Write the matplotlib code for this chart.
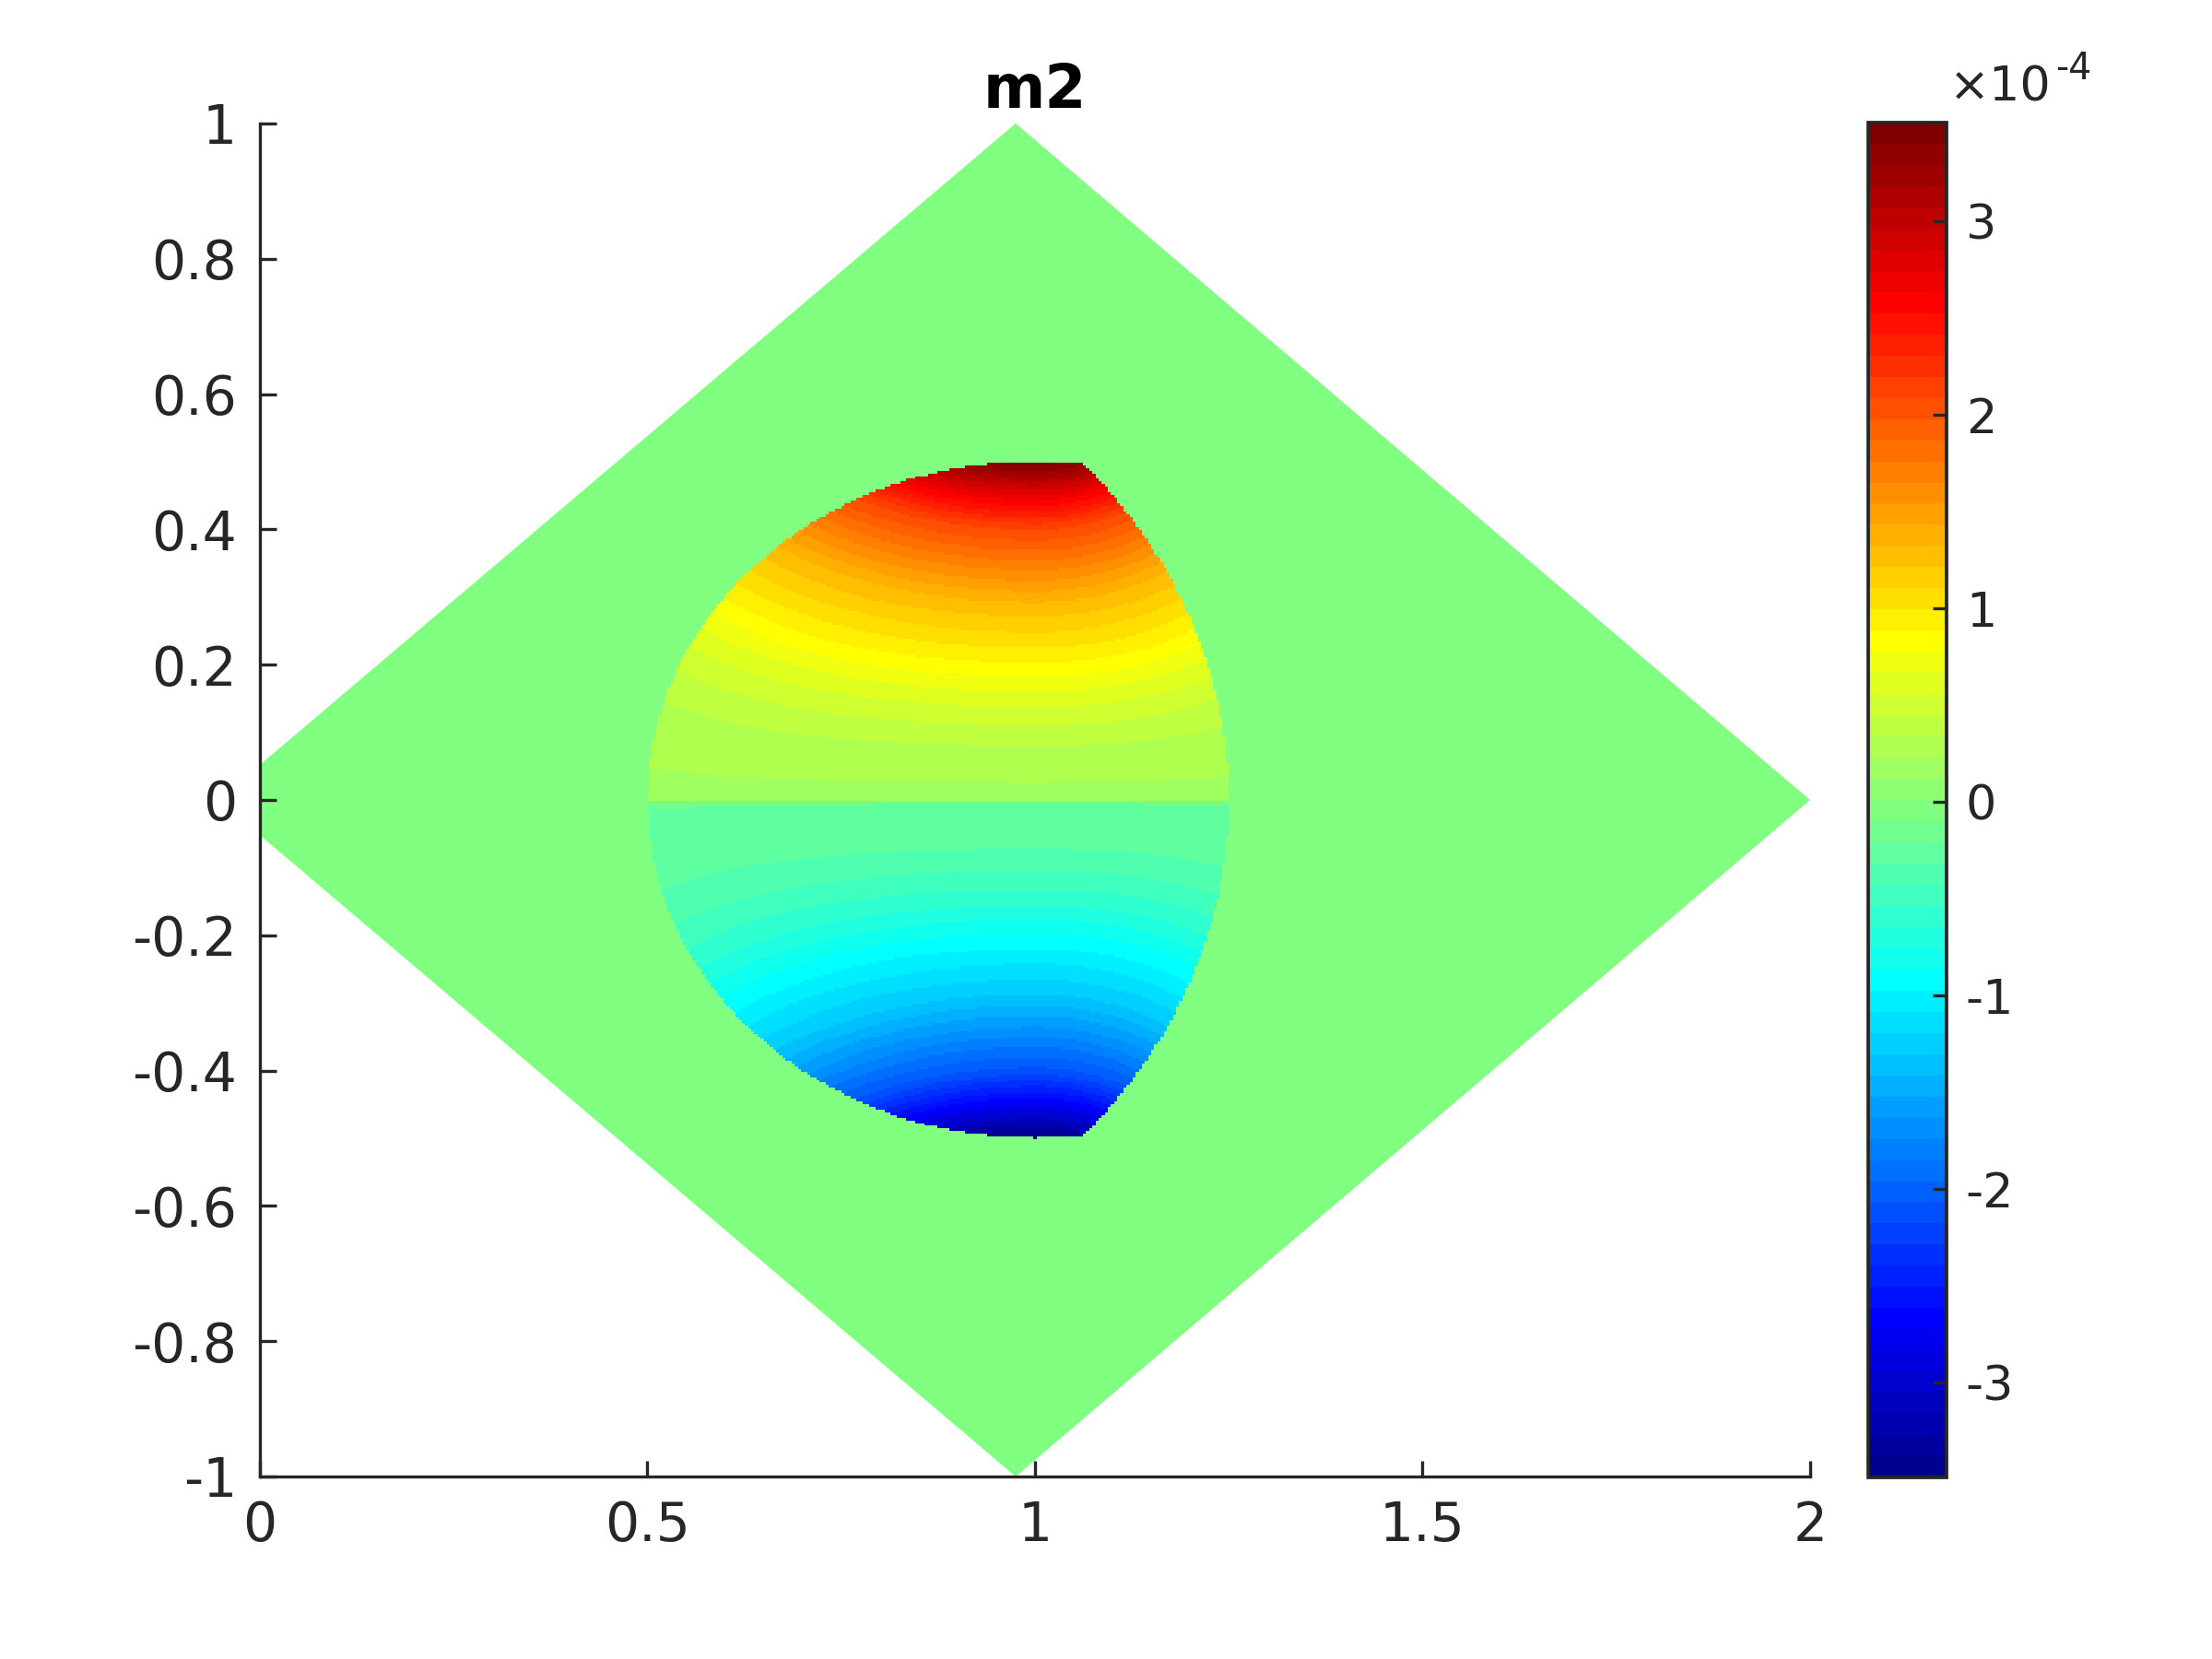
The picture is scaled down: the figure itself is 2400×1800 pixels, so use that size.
import numpy as np
import matplotlib
matplotlib.use('Agg')
import matplotlib.pyplot as plt
from matplotlib.colors import ListedColormap, Normalize
from matplotlib.patches import Polygon

plt.rcParams['font.family'] = ['DejaVu Sans']
plt.rcParams['axes.unicode_minus'] = False

# rhombus domain corners
rhombus_x = [-0.0535, 0.975, 2.0, 0.975]
rhombus_y = [0.0, 1.0, 0.0, -1.0]

# inclusion = intersection of two discs (centre x, centre y, radius)
disc_a = (1.0, 0.0, 0.5)
disc_b = (0.5, 0.0, 0.75)

# m2 (x1e-4) along x = 1, upper half
prof_y = [0.0, 0.05, 0.094, 0.15, 0.20, 0.29, 0.34, 0.40, 0.44, 0.49, 0.5]
prof_v = [0.2, 0.26, 0.38, 0.61, 0.875, 1.31, 1.66, 2.1, 2.6, 3.36, 3.45]
# how much the bands bend up away from x = 1 (left / right side)
bend_left = 2.0
bend_right = 4.7

cb_ticks = [-3, -2, -1, 0, 1, 2, 3]
clim = (-3.49, 3.51)
x_ticks = [0, 0.5, 1, 1.5, 2]
x_labels = ['0', '0.5', '1', '1.5', '2']
y_ticks = [-1, -0.8, -0.6, -0.4, -0.2, 0, 0.2, 0.4, 0.6, 0.8, 1]
y_labels = ['-1', '-0.8', '-0.6', '-0.4', '-0.2', '0', '0.2', '0.4', '0.6', '0.8', '1']


def matlab_jet(m=64):
    n = int(np.ceil(m / 4))
    u = np.concatenate([np.arange(1, n + 1) / n, np.ones(n - 1), np.arange(n, 0, -1) / n])
    g = int(np.ceil(n / 2)) - (1 if m % 4 == 1 else 0) + np.arange(1, len(u) + 1)
    J = np.zeros((m, 3))
    for idx, col in ((g + n, 0), (g, 1), (g - n, 2)):
        ok = (idx >= 1) & (idx <= m)
        J[idx[ok] - 1, col] = u[ok]
    return J


cmap = ListedColormap(matlab_jet(64))
norm = Normalize(*clim)

# field on a grid covering the inclusion
h = 0.004
xs = np.arange(0.49, 1.27, h) + h / 2
ys = np.arange(-0.51, 0.51, h) + h / 2
X, Y = np.meshgrid(xs, ys)
inside = (((X - disc_a[0]) ** 2 + (Y - disc_a[1]) ** 2 <= disc_a[2] ** 2)
          & ((X - disc_b[0]) ** 2 + (Y - disc_b[1]) ** 2 <= disc_b[2] ** 2))
dx = X - 1.0
c = np.where(dx < 0, bend_left, bend_right)
y_eff = np.abs(Y) - c * dx ** 2 * np.abs(Y)
Z = np.sign(Y) * np.interp(y_eff, prof_y, prof_v)
Z = np.where(inside, Z, np.nan)

fig = plt.figure(figsize=(8, 6), dpi=300)
ax = fig.add_axes([0.1175, 0.11, 0.7008, 0.8156])
cax = fig.add_axes([0.8446, 0.1094, 0.0354, 0.8167])

dark = (0.15, 0.15, 0.15)
ax.add_patch(Polygon(np.column_stack([rhombus_x, rhombus_y]), closed=True,
                     facecolor=cmap(norm(0.0)), edgecolor='none', zorder=1))
im = ax.imshow(np.ma.masked_invalid(Z), extent=[xs[0] - h / 2, xs[-1] + h / 2, ys[0] - h / 2, ys[-1] + h / 2],
               origin='lower', interpolation='nearest', aspect='auto', cmap=cmap, norm=norm, zorder=2)

ax.set_xlim(0, 2)
ax.set_ylim(-1, 1)
ax.set_xticks(x_ticks)
ax.set_xticklabels(x_labels)
ax.set_yticks(y_ticks)
ax.set_yticklabels(y_labels)
for s in ['top', 'right']:
    ax.spines[s].set_visible(False)
for s in ['left', 'bottom']:
    ax.spines[s].set_color(dark)
    ax.spines[s].set_linewidth(0.8)
ax.tick_params(direction='in', length=4.2, width=0.8, colors=dark, labelsize=14, pad=6)
ax.set_title('m2', fontweight='bold', fontsize=15.5, pad=4)

cb = fig.colorbar(im, cax=cax)
cb.set_ticks(cb_ticks)
cb.set_ticklabels([str(t) for t in cb_ticks])
cb.ax.tick_params(direction='in', length=3.6, width=0.8, colors=dark, labelsize=12.6, pad=5)
cb.outline.set_edgecolor(dark)
cb.outline.set_linewidth(0.9)

# exponent label above the colorbar
t1 = fig.text(0.8810, 0.939, '\u00d710', fontsize=12.6, color=dark, va='baseline')
fig.canvas.draw()
bb = t1.get_window_extent()
x_end = bb.x1 / fig.bbox.width
fig.text(x_end + 0.002, 0.952, '-4', fontsize=9.5, color=dark, va='baseline')

fig.savefig('out.png', dpi=300)
